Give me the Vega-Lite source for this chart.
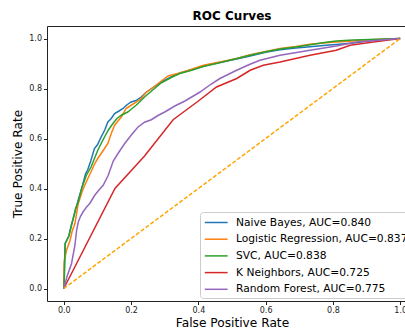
{
  "$schema": "https://vega.github.io/schema/vega-lite/v6.json",
  "width": 370,
  "height": 275,
  "autosize": "none",
  "padding": {"left": 47, "top": 26, "right": 0, "bottom": 29},
  "background": "white",
  "title": {"text": "ROC Curves", "font": "DejaVu Sans", "fontSize": 12, "fontWeight": "bold", "color": "#000", "anchor": "middle", "offset": 3},
  "config": {
    "view": {"stroke": "#222", "strokeWidth": 1},
    "axis": {"labelFont": "DejaVu Sans", "labelFontSize": 8, "labelColor": "#222", "tickColor": "#222", "tickSize": 3.5, "domain": false, "grid": false, "titleFont": "DejaVu Sans", "titleFontSize": 12.2, "titleFontWeight": "normal", "titleColor": "#000", "labelPadding": 2},
    "legend": {"labelFont": "DejaVu Sans", "labelFontSize": 10.7, "labelColor": "#000"}
  },
  "datasets": {
    "roc": [
      {"model": "Naive Bayes", "fpr": 0, "tpr": 0},
      {"model": "Naive Bayes", "fpr": 0.002, "tpr": 0.1},
      {"model": "Naive Bayes", "fpr": 0.004, "tpr": 0.18},
      {"model": "Naive Bayes", "fpr": 0.015, "tpr": 0.21},
      {"model": "Naive Bayes", "fpr": 0.022, "tpr": 0.25},
      {"model": "Naive Bayes", "fpr": 0.03, "tpr": 0.29},
      {"model": "Naive Bayes", "fpr": 0.042, "tpr": 0.35},
      {"model": "Naive Bayes", "fpr": 0.053, "tpr": 0.4},
      {"model": "Naive Bayes", "fpr": 0.065, "tpr": 0.46},
      {"model": "Naive Bayes", "fpr": 0.071, "tpr": 0.475},
      {"model": "Naive Bayes", "fpr": 0.08, "tpr": 0.51},
      {"model": "Naive Bayes", "fpr": 0.091, "tpr": 0.56},
      {"model": "Naive Bayes", "fpr": 0.1, "tpr": 0.575},
      {"model": "Naive Bayes", "fpr": 0.111, "tpr": 0.606},
      {"model": "Naive Bayes", "fpr": 0.122, "tpr": 0.635},
      {"model": "Naive Bayes", "fpr": 0.131, "tpr": 0.666},
      {"model": "Naive Bayes", "fpr": 0.141, "tpr": 0.68},
      {"model": "Naive Bayes", "fpr": 0.151, "tpr": 0.7},
      {"model": "Naive Bayes", "fpr": 0.164, "tpr": 0.71},
      {"model": "Naive Bayes", "fpr": 0.176, "tpr": 0.72},
      {"model": "Naive Bayes", "fpr": 0.188, "tpr": 0.735},
      {"model": "Naive Bayes", "fpr": 0.2, "tpr": 0.746},
      {"model": "Naive Bayes", "fpr": 0.215, "tpr": 0.752},
      {"model": "Naive Bayes", "fpr": 0.23, "tpr": 0.766},
      {"model": "Naive Bayes", "fpr": 0.245, "tpr": 0.785},
      {"model": "Naive Bayes", "fpr": 0.261, "tpr": 0.8},
      {"model": "Naive Bayes", "fpr": 0.29, "tpr": 0.826},
      {"model": "Naive Bayes", "fpr": 0.325, "tpr": 0.85},
      {"model": "Naive Bayes", "fpr": 0.345, "tpr": 0.862},
      {"model": "Naive Bayes", "fpr": 0.38, "tpr": 0.875},
      {"model": "Naive Bayes", "fpr": 0.415, "tpr": 0.89},
      {"model": "Naive Bayes", "fpr": 0.46, "tpr": 0.903},
      {"model": "Naive Bayes", "fpr": 0.514, "tpr": 0.918},
      {"model": "Naive Bayes", "fpr": 0.554, "tpr": 0.93},
      {"model": "Naive Bayes", "fpr": 0.6, "tpr": 0.945},
      {"model": "Naive Bayes", "fpr": 0.643, "tpr": 0.955},
      {"model": "Naive Bayes", "fpr": 0.69, "tpr": 0.962},
      {"model": "Naive Bayes", "fpr": 0.732, "tpr": 0.967},
      {"model": "Naive Bayes", "fpr": 0.78, "tpr": 0.973},
      {"model": "Naive Bayes", "fpr": 0.81, "tpr": 0.976},
      {"model": "Naive Bayes", "fpr": 0.86, "tpr": 0.982},
      {"model": "Naive Bayes", "fpr": 0.92, "tpr": 0.993},
      {"model": "Naive Bayes", "fpr": 0.96, "tpr": 0.997},
      {"model": "Naive Bayes", "fpr": 1, "tpr": 1},

      {"model": "Logistic Regression", "fpr": 0, "tpr": 0},
      {"model": "Logistic Regression", "fpr": 0.001, "tpr": 0.107},
      {"model": "Logistic Regression", "fpr": 0.008, "tpr": 0.153},
      {"model": "Logistic Regression", "fpr": 0.018, "tpr": 0.19},
      {"model": "Logistic Regression", "fpr": 0.025, "tpr": 0.23},
      {"model": "Logistic Regression", "fpr": 0.033, "tpr": 0.26},
      {"model": "Logistic Regression", "fpr": 0.043, "tpr": 0.34},
      {"model": "Logistic Regression", "fpr": 0.055, "tpr": 0.39},
      {"model": "Logistic Regression", "fpr": 0.069, "tpr": 0.433},
      {"model": "Logistic Regression", "fpr": 0.082, "tpr": 0.47},
      {"model": "Logistic Regression", "fpr": 0.092, "tpr": 0.5},
      {"model": "Logistic Regression", "fpr": 0.101, "tpr": 0.52},
      {"model": "Logistic Regression", "fpr": 0.111, "tpr": 0.54},
      {"model": "Logistic Regression", "fpr": 0.121, "tpr": 0.56},
      {"model": "Logistic Regression", "fpr": 0.131, "tpr": 0.58},
      {"model": "Logistic Regression", "fpr": 0.141, "tpr": 0.62},
      {"model": "Logistic Regression", "fpr": 0.151, "tpr": 0.653},
      {"model": "Logistic Regression", "fpr": 0.161, "tpr": 0.67},
      {"model": "Logistic Regression", "fpr": 0.171, "tpr": 0.686},
      {"model": "Logistic Regression", "fpr": 0.185, "tpr": 0.72},
      {"model": "Logistic Regression", "fpr": 0.2, "tpr": 0.733},
      {"model": "Logistic Regression", "fpr": 0.215, "tpr": 0.745},
      {"model": "Logistic Regression", "fpr": 0.23, "tpr": 0.76},
      {"model": "Logistic Regression", "fpr": 0.245, "tpr": 0.785},
      {"model": "Logistic Regression", "fpr": 0.261, "tpr": 0.8},
      {"model": "Logistic Regression", "fpr": 0.29, "tpr": 0.83},
      {"model": "Logistic Regression", "fpr": 0.31, "tpr": 0.85},
      {"model": "Logistic Regression", "fpr": 0.345, "tpr": 0.862},
      {"model": "Logistic Regression", "fpr": 0.38, "tpr": 0.877},
      {"model": "Logistic Regression", "fpr": 0.415, "tpr": 0.893},
      {"model": "Logistic Regression", "fpr": 0.46, "tpr": 0.905},
      {"model": "Logistic Regression", "fpr": 0.514, "tpr": 0.92},
      {"model": "Logistic Regression", "fpr": 0.554, "tpr": 0.935},
      {"model": "Logistic Regression", "fpr": 0.6, "tpr": 0.948},
      {"model": "Logistic Regression", "fpr": 0.643, "tpr": 0.96},
      {"model": "Logistic Regression", "fpr": 0.69, "tpr": 0.968},
      {"model": "Logistic Regression", "fpr": 0.732, "tpr": 0.977},
      {"model": "Logistic Regression", "fpr": 0.78, "tpr": 0.983},
      {"model": "Logistic Regression", "fpr": 0.81, "tpr": 0.986},
      {"model": "Logistic Regression", "fpr": 0.86, "tpr": 0.99},
      {"model": "Logistic Regression", "fpr": 0.91, "tpr": 0.995},
      {"model": "Logistic Regression", "fpr": 1, "tpr": 1},

      {"model": "SVC", "fpr": 0, "tpr": 0},
      {"model": "SVC", "fpr": 0.002, "tpr": 0.06},
      {"model": "SVC", "fpr": 0.004, "tpr": 0.18},
      {"model": "SVC", "fpr": 0.015, "tpr": 0.21},
      {"model": "SVC", "fpr": 0.022, "tpr": 0.25},
      {"model": "SVC", "fpr": 0.028, "tpr": 0.28},
      {"model": "SVC", "fpr": 0.035, "tpr": 0.32},
      {"model": "SVC", "fpr": 0.043, "tpr": 0.346},
      {"model": "SVC", "fpr": 0.053, "tpr": 0.4},
      {"model": "SVC", "fpr": 0.067, "tpr": 0.453},
      {"model": "SVC", "fpr": 0.081, "tpr": 0.486},
      {"model": "SVC", "fpr": 0.091, "tpr": 0.52},
      {"model": "SVC", "fpr": 0.101, "tpr": 0.553},
      {"model": "SVC", "fpr": 0.111, "tpr": 0.58},
      {"model": "SVC", "fpr": 0.121, "tpr": 0.606},
      {"model": "SVC", "fpr": 0.133, "tpr": 0.635},
      {"model": "SVC", "fpr": 0.146, "tpr": 0.66},
      {"model": "SVC", "fpr": 0.158, "tpr": 0.68},
      {"model": "SVC", "fpr": 0.171, "tpr": 0.693},
      {"model": "SVC", "fpr": 0.19, "tpr": 0.706},
      {"model": "SVC", "fpr": 0.203, "tpr": 0.72},
      {"model": "SVC", "fpr": 0.215, "tpr": 0.733},
      {"model": "SVC", "fpr": 0.228, "tpr": 0.75},
      {"model": "SVC", "fpr": 0.24, "tpr": 0.766},
      {"model": "SVC", "fpr": 0.261, "tpr": 0.79},
      {"model": "SVC", "fpr": 0.29, "tpr": 0.823},
      {"model": "SVC", "fpr": 0.325, "tpr": 0.848},
      {"model": "SVC", "fpr": 0.345, "tpr": 0.86},
      {"model": "SVC", "fpr": 0.38, "tpr": 0.873},
      {"model": "SVC", "fpr": 0.415, "tpr": 0.888},
      {"model": "SVC", "fpr": 0.46, "tpr": 0.902},
      {"model": "SVC", "fpr": 0.514, "tpr": 0.92},
      {"model": "SVC", "fpr": 0.554, "tpr": 0.933},
      {"model": "SVC", "fpr": 0.6, "tpr": 0.947},
      {"model": "SVC", "fpr": 0.643, "tpr": 0.958},
      {"model": "SVC", "fpr": 0.69, "tpr": 0.966},
      {"model": "SVC", "fpr": 0.732, "tpr": 0.975},
      {"model": "SVC", "fpr": 0.78, "tpr": 0.985},
      {"model": "SVC", "fpr": 0.81, "tpr": 0.99},
      {"model": "SVC", "fpr": 0.86, "tpr": 0.994},
      {"model": "SVC", "fpr": 0.91, "tpr": 0.996},
      {"model": "SVC", "fpr": 1, "tpr": 1},

      {"model": "K Neighbors", "fpr": 0, "tpr": 0},
      {"model": "K Neighbors", "fpr": 0.152, "tpr": 0.4},
      {"model": "K Neighbors", "fpr": 0.24, "tpr": 0.53},
      {"model": "K Neighbors", "fpr": 0.325, "tpr": 0.675},
      {"model": "K Neighbors", "fpr": 0.4, "tpr": 0.75},
      {"model": "K Neighbors", "fpr": 0.454, "tpr": 0.806},
      {"model": "K Neighbors", "fpr": 0.514, "tpr": 0.84},
      {"model": "K Neighbors", "fpr": 0.554, "tpr": 0.873},
      {"model": "K Neighbors", "fpr": 0.593, "tpr": 0.893},
      {"model": "K Neighbors", "fpr": 0.643, "tpr": 0.906},
      {"model": "K Neighbors", "fpr": 0.732, "tpr": 0.933},
      {"model": "K Neighbors", "fpr": 0.81, "tpr": 0.953},
      {"model": "K Neighbors", "fpr": 0.851, "tpr": 0.973},
      {"model": "K Neighbors", "fpr": 0.92, "tpr": 0.986},
      {"model": "K Neighbors", "fpr": 1, "tpr": 1},

      {"model": "Random Forest", "fpr": 0, "tpr": 0},
      {"model": "Random Forest", "fpr": 0.01, "tpr": 0.05},
      {"model": "Random Forest", "fpr": 0.023, "tpr": 0.1},
      {"model": "Random Forest", "fpr": 0.033, "tpr": 0.173},
      {"model": "Random Forest", "fpr": 0.038, "tpr": 0.233},
      {"model": "Random Forest", "fpr": 0.043, "tpr": 0.266},
      {"model": "Random Forest", "fpr": 0.05, "tpr": 0.29},
      {"model": "Random Forest", "fpr": 0.057, "tpr": 0.306},
      {"model": "Random Forest", "fpr": 0.067, "tpr": 0.325},
      {"model": "Random Forest", "fpr": 0.077, "tpr": 0.34},
      {"model": "Random Forest", "fpr": 0.092, "tpr": 0.373},
      {"model": "Random Forest", "fpr": 0.105, "tpr": 0.395},
      {"model": "Random Forest", "fpr": 0.117, "tpr": 0.413},
      {"model": "Random Forest", "fpr": 0.132, "tpr": 0.453},
      {"model": "Random Forest", "fpr": 0.147, "tpr": 0.51},
      {"model": "Random Forest", "fpr": 0.161, "tpr": 0.54},
      {"model": "Random Forest", "fpr": 0.181, "tpr": 0.58},
      {"model": "Random Forest", "fpr": 0.2, "tpr": 0.613},
      {"model": "Random Forest", "fpr": 0.22, "tpr": 0.645},
      {"model": "Random Forest", "fpr": 0.24, "tpr": 0.665},
      {"model": "Random Forest", "fpr": 0.26, "tpr": 0.675},
      {"model": "Random Forest", "fpr": 0.28, "tpr": 0.692},
      {"model": "Random Forest", "fpr": 0.3, "tpr": 0.706},
      {"model": "Random Forest", "fpr": 0.33, "tpr": 0.73},
      {"model": "Random Forest", "fpr": 0.36, "tpr": 0.75},
      {"model": "Random Forest", "fpr": 0.405, "tpr": 0.786},
      {"model": "Random Forest", "fpr": 0.435, "tpr": 0.815},
      {"model": "Random Forest", "fpr": 0.464, "tpr": 0.84},
      {"model": "Random Forest", "fpr": 0.514, "tpr": 0.873},
      {"model": "Random Forest", "fpr": 0.55, "tpr": 0.895},
      {"model": "Random Forest", "fpr": 0.583, "tpr": 0.913},
      {"model": "Random Forest", "fpr": 0.643, "tpr": 0.933},
      {"model": "Random Forest", "fpr": 0.732, "tpr": 0.953},
      {"model": "Random Forest", "fpr": 0.81, "tpr": 0.97},
      {"model": "Random Forest", "fpr": 0.87, "tpr": 0.986},
      {"model": "Random Forest", "fpr": 1, "tpr": 1}
    ],
    "diag": [
      {"fpr": 0, "tpr": 0},
      {"fpr": 1, "tpr": 1}
    ]
  },
  "layer": [
    {
      "data": {"name": "roc"},
      "mark": {"type": "line", "strokeWidth": 1.5},
      "encoding": {
        "x": {"field": "fpr", "type": "quantitative", "scale": {"domain": [-0.05, 1.05], "nice": false, "zero": false}, "axis": {"title": "False Positive Rate", "values": [0, 0.1, 0.2, 0.3, 0.4, 0.5, 0.6, 0.7, 0.8, 0.9, 1.0], "format": ".1f", "titlePadding": 2}},
        "y": {"field": "tpr", "type": "quantitative", "scale": {"domain": [-0.05, 1.05], "nice": false, "zero": false}, "axis": {"title": "True Positive Rate", "values": [0, 0.1, 0.2, 0.3, 0.4, 0.5, 0.6, 0.7, 0.8, 0.9, 1.0], "format": ".1f", "titlePadding": 4}},
        "color": {
          "field": "model", "type": "nominal",
          "scale": {"domain": ["Naive Bayes", "Logistic Regression", "SVC", "K Neighbors", "Random Forest"], "range": ["#1f77b4", "#ff7f0e", "#2ca02c", "#d62728", "#9467bd"]},
          "legend": {
            "title": null, "orient": "none", "legendX": 153, "legendY": 186,
            "labelExpr": "datum.label == 'Naive Bayes' ? 'Naive Bayes, AUC=0.840' : datum.label == 'Logistic Regression' ? 'Logistic Regression, AUC=0.837' : datum.label == 'SVC' ? 'SVC, AUC=0.838' : datum.label == 'K Neighbors' ? 'K Neighbors, AUC=0.725' : 'Random Forest, AUC=0.775'",
            "labelLimit": 400,
            "fillColor": "rgba(255,255,255,0.8)", "strokeColor": "#cccccc", "cornerRadius": 3, "padding": 4,
            "symbolType": "M-1,0H3", "symbolStrokeWidth": 1.5, "symbolSize": 130, "rowPadding": 4.7, "labelOffset": 19
          }
        }
      }
    },
    {
      "data": {"name": "diag"},
      "mark": {"type": "line", "color": "#FFA500", "strokeWidth": 1.5, "strokeDash": [4, 2]},
      "encoding": {
        "x": {"field": "fpr", "type": "quantitative"},
        "y": {"field": "tpr", "type": "quantitative"}
      }
    }
  ]
}
